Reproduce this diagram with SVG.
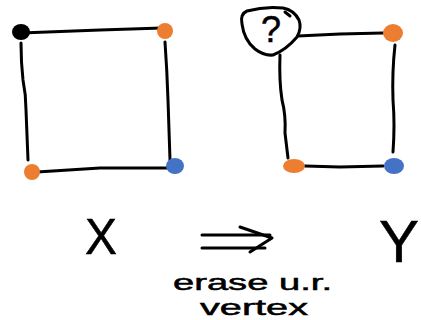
<svg xmlns="http://www.w3.org/2000/svg" width="421" height="320" viewBox="0 0 421 320">
  <style>
    .edge { fill: none; stroke: #000; stroke-width: 3; stroke-linecap: round; stroke-linejoin: round; }
    .ink { fill: none; stroke: #000; stroke-width: 3; stroke-linecap: round; stroke-linejoin: round; }
    .orange { fill: #ED7D31; }
    .blue { fill: #4472C4; }
    .black { fill: #000; }
    .hand { font-family: "Liberation Sans", "DejaVu Sans", sans-serif; fill: #000; stroke: #000; stroke-width: 0.5; }
  </style>
  <rect width="421" height="320" fill="#fff"/>

  <!-- edges of both graphs -->
  <g id="connectors">
    <path class="edge" d="M21,33 L100,30 L162,28"/>
    <path class="edge" d="M21,43 Q21,62 23,80 Q26,95 26,110 L28,160"/>
    <path class="edge" d="M165,42 Q167,70 168,100 L170,160"/>
    <path class="edge" d="M37,172 L100,168 L172,168"/>

    <path class="edge" d="M298,36 L340,34 L383,33"/>
    <path class="edge" d="M395,45 Q392,72 393,100 Q395,125 393,152"/>
    <path class="edge" d="M305,166 L340,167 L383,166"/>
    <path class="edge" d="M280,55 Q279,80 282,100 Q286,115 285,133 L288,158"/>
  </g>

  <!-- graph X -->
  <g id="x-upper-left"><ellipse class="black" cx="21" cy="32" rx="9" ry="8"/></g>
  <g id="x-upper-right"><ellipse class="orange" cx="165" cy="31" rx="8" ry="8"/></g>
  <g id="x-lower-right"><ellipse class="blue" cx="175" cy="166" rx="9" ry="8"/></g>
  <g id="x-lower-left"><ellipse class="orange" cx="32" cy="172" rx="8" ry="8"/></g>

  <!-- graph Y -->
  <g id="y-unknown">
    <path class="ink" d="M247,11 Q240,14 242,24 Q244,40 255,49 Q264,56 273,55 Q286,50 297,37 Q302,28 299,20 Q294,10 283,8 Q265,6 247,11 Z"/>
    <path class="ink" d="M285,12 L290,16" stroke-width="2"/>
    <text class="hand" x="271" y="42" font-size="36" text-anchor="middle" textLength="20" lengthAdjust="spacingAndGlyphs" stroke-width="0">?</text>
  </g>
  <g id="y-upper-right"><ellipse class="orange" cx="393" cy="33" rx="10" ry="9"/></g>
  <g id="y-lower-right"><ellipse class="blue" cx="394" cy="166" rx="10" ry="8"/></g>
  <g id="y-lower-left"><ellipse class="orange" cx="294" cy="166" rx="11" ry="7"/></g>

  <!-- labels -->
  <text class="hand" x="101" y="254" font-size="50" text-anchor="middle" textLength="32" lengthAdjust="spacingAndGlyphs">X</text>
  <text class="hand" x="419" y="262" font-size="60" text-anchor="end">Y</text>

  <!-- transformation arrow -->
  <g id="arrow">
    <path class="ink" d="M202,235 L270,235"/>
    <path class="ink" d="M202,248 L265,248"/>
    <path class="ink" d="M240,227 L272,238 L250,252"/>
  </g>

  <text class="hand" x="173" y="290" font-size="22" textLength="159" lengthAdjust="spacingAndGlyphs">erase  u.r.</text>
  <text class="hand" x="200" y="315" font-size="22" textLength="108" lengthAdjust="spacingAndGlyphs">vertex</text>
</svg>
